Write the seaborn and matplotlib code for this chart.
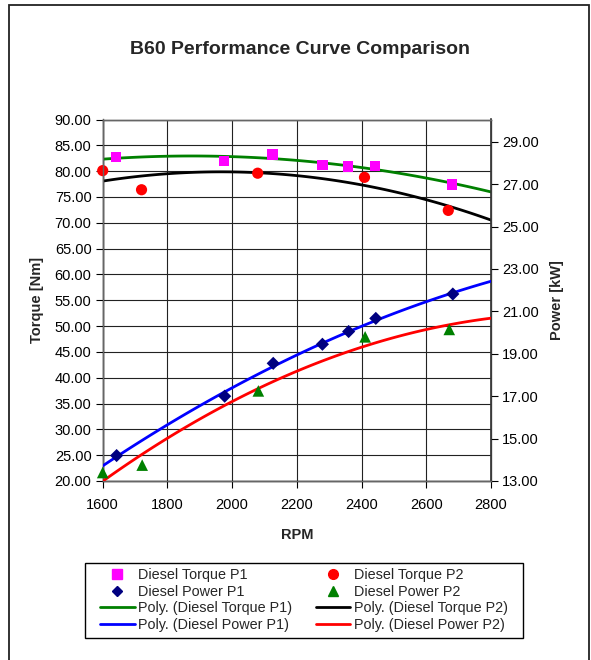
import matplotlib
matplotlib.use("Agg")
import matplotlib.pyplot as plt
import seaborn as sns
import numpy as np
from matplotlib.patches import Rectangle
from matplotlib.lines import Line2D

sns.set_theme(style="white")
plt.rcParams['font.family'] = ['Liberation Sans', 'DejaVu Sans']

# ---- data ----
rpm_torque_p1 = [1641, 1975, 2125, 2279, 2359, 2442, 2680]
torque_p1 = [82.7, 82.0, 83.2, 81.2, 80.9, 81.0, 77.4]

rpm_torque_p2 = [1600, 1720, 2079, 2409, 2668]
torque_p2 = [80.1, 76.4, 79.6, 78.8, 72.4]

rpm_power_p1 = [1643, 1977, 2127, 2279, 2360, 2444, 2682]
power_p1 = [14.2, 17.0, 18.55, 19.45, 20.05, 20.67, 21.82]

rpm_power_p2 = [1600, 1722, 2081, 2411, 2671]
power_p2 = [13.4, 13.75, 17.25, 19.8, 20.15]

x_ticks = [1600, 1800, 2000, 2200, 2400, 2600, 2800]
torque_ticks = [20, 25, 30, 35, 40, 45, 50, 55, 60, 65, 70, 75, 80, 85, 90]
power_ticks = [13, 15, 17, 19, 21, 23, 25, 27, 29]

fig = plt.figure(figsize=(5.91, 6.60), dpi=100)
fig.patch.set_facecolor('white')
ax = fig.add_axes([102.7/591, 1-481/660, (491-102.7)/591, (481-119.5)/660])
ax2 = ax.twinx()

P_TOP = 13 + 361.5/21.2

ax.set_xlim(1600, 2800)
ax.set_ylim(20, 90)
ax2.set_ylim(13, P_TOP)

# trendlines (polynomial, order 2)
lw = 2.0
sns.regplot(x=rpm_torque_p1, y=torque_p1, ax=ax, order=2, scatter=False, ci=None,
            truncate=False, line_kws=dict(color='#008000', lw=lw, zorder=3))
sns.regplot(x=rpm_torque_p2, y=torque_p2, ax=ax, order=2, scatter=False, ci=None,
            truncate=False, line_kws=dict(color='black', lw=lw, zorder=3))
sns.regplot(x=rpm_power_p1, y=power_p1, ax=ax2, order=2, scatter=False, ci=None,
            truncate=False, line_kws=dict(color='#0000FF', lw=lw, zorder=3))
sns.regplot(x=rpm_power_p2, y=power_p2, ax=ax2, order=2, scatter=False, ci=None,
            truncate=False, line_kws=dict(color='#FF0000', lw=lw, zorder=3))

# scatter points
sns.scatterplot(x=rpm_torque_p1, y=torque_p1, ax=ax, marker='s', s=55, color='#FF00FF',
                edgecolor='none', zorder=4, legend=False, clip_on=False)
sns.scatterplot(x=rpm_torque_p2, y=torque_p2, ax=ax, marker='o', s=65, color='#FF0000',
                edgecolor='none', zorder=4, legend=False, clip_on=False)
sns.scatterplot(x=rpm_power_p1, y=power_p1, ax=ax2, marker='D', s=45, color='#000080',
                edgecolor='none', zorder=4, legend=False, clip_on=False)
sns.scatterplot(x=rpm_power_p2, y=power_p2, ax=ax2, marker='^', s=70, color='#008000',
                edgecolor='none', zorder=4, legend=False, clip_on=False)

ax.set_xlim(1600, 2800)
ax.set_ylim(20, 90)
ax2.set_ylim(13, P_TOP)

ax.set_xticks(x_ticks)
ax.set_xticklabels([str(t) for t in x_ticks])
ax.set_yticks(torque_ticks)
ax.set_yticklabels([f"{t:.2f}" for t in torque_ticks])
ax2.set_yticks(power_ticks)
ax2.set_yticklabels([f"{t:.2f}" for t in power_ticks])

ax.grid(True, color='#222222', lw=0.8)
ax2.grid(False)
for a in (ax, ax2):
    for sp in a.spines.values():
        sp.set_color('#666666')
        sp.set_linewidth(1.0)
    a.set_facecolor('none')
ax.spines['left'].set_color('black')
ax.spines['bottom'].set_color('black')
ax2.spines['right'].set_color('#333333')
ax2.spines['right'].set_linewidth(1.2)

ax.tick_params(axis='both', which='major', direction='out', length=5, width=0.8,
               color='black', labelsize=10.5, labelcolor='black', left=True, bottom=True, pad=3)
ax.tick_params(axis='x', pad=7)
ax2.tick_params(axis='y', direction='out', length=5, width=0.8, color='black',
                labelsize=10.5, labelcolor='black', right=True, pad=3)

ax.set_xlabel('RPM', fontsize=10.5, fontweight='bold', labelpad=12)
ax.set_ylabel('Torque [Nm]', fontsize=10.5, fontweight='bold', labelpad=8)
ax2.set_ylabel('Power [kW]', fontsize=10.5, fontweight='bold', labelpad=8)

fig.text(300/591, 1-50/660, 'B60 Performance Curve Comparison', ha='center', va='center',
         fontsize=14, fontweight='bold')

# chart border
fig.patches.append(Rectangle((9/591, -0.02), (589-9)/591, 1.02-4.5/660, transform=fig.transFigure,
                             fill=False, edgecolor='#222222', lw=1.3))

# legend box
fig.patches.append(Rectangle((85/591, 1-638/660), (523-85)/591, (638-563)/660,
                             transform=fig.transFigure, fill=False, edgecolor='black', lw=1.0))

handles = [
    Line2D([], [], ls='none', marker='s', color='#FF00FF', markersize=6.5),
    Line2D([], [], ls='none', marker='D', color='#000080', markersize=5.5),
    Line2D([], [], color='#008000', lw=2),
    Line2D([], [], color='#0000FF', lw=2),
    Line2D([], [], ls='none', marker='o', color='#FF0000', markersize=7),
    Line2D([], [], ls='none', marker='^', color='#008000', markersize=7.5),
    Line2D([], [], color='black', lw=2),
    Line2D([], [], color='#FF0000', lw=2),
]
labels = ['Diesel Torque P1', 'Diesel Power P1', 'Poly. (Diesel Torque P1)', 'Poly. (Diesel Power P1)',
          'Diesel Torque P2', 'Diesel Power P2', 'Poly. (Diesel Torque P2)', 'Poly. (Diesel Power P2)']
leg = fig.legend(handles, labels, ncol=2, loc='center', bbox_to_anchor=(304/591, 1-600/660),
                 fontsize=10.4, frameon=False,
                 handlelength=2.4, handletextpad=0.25, columnspacing=1.6, labelspacing=0.2,
                 borderpad=0.3)

fig.savefig('out.png', dpi=100, facecolor='white')
